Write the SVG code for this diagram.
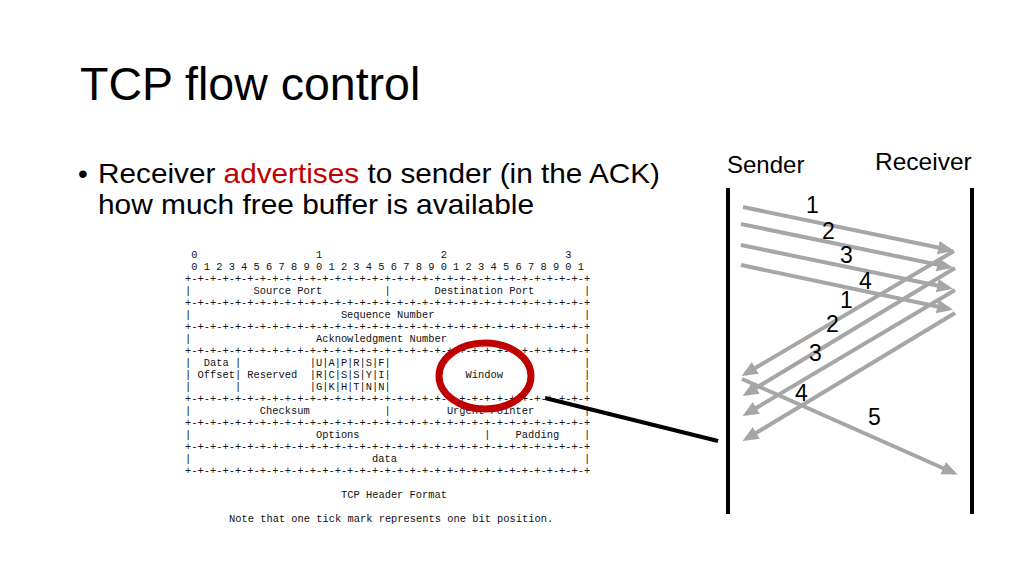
<svg xmlns="http://www.w3.org/2000/svg" width="1024" height="576" viewBox="0 0 1024 576">
<style>
.s{font-family:"Liberation Sans",Arial,sans-serif;fill:#000}
.m{font-family:"Liberation Mono","Courier New",monospace;font-size:10.4px;white-space:pre;fill:#111}
.g{stroke:#a6a6a6;stroke-width:4;fill:none;marker-end:url(#ah)}
.n{font-family:"Liberation Sans",Arial,sans-serif;font-size:23px;fill:#000}
</style>
<defs>
<marker id="ah" markerWidth="5" markerHeight="5" refX="3" refY="2" orient="auto" markerUnits="strokeWidth"><path d="M0,0.3 L4,2 L0,3.7 z" fill="#a6a6a6"/></marker>
</defs>
<rect width="1024" height="576" fill="#fff"/>
<text class="s" x="80" y="100" font-size="46.5">TCP flow control</text>
<g id="bullet">
<text class="s" x="78" y="183" font-size="28">•</text>
<text class="s" x="98" y="183" font-size="28" textLength="562" lengthAdjust="spacingAndGlyphs">Receiver <tspan fill="#c00000">advertises</tspan> to sender (in the ACK)</text>
<text class="s" x="98" y="214" font-size="28" textLength="436" lengthAdjust="spacingAndGlyphs">how much free buffer is available</text>
</g>
<g id="header" xml:space="preserve">
<text class="m" x="185" y="258"> 0                   1                   2                   3</text>
<text class="m" x="185" y="270"> 0 1 2 3 4 5 6 7 8 9 0 1 2 3 4 5 6 7 8 9 0 1 2 3 4 5 6 7 8 9 0 1</text>
<text class="m" x="185" y="282">+-+-+-+-+-+-+-+-+-+-+-+-+-+-+-+-+-+-+-+-+-+-+-+-+-+-+-+-+-+-+-+-+</text>
<text class="m" x="185" y="294">|          Source Port          |       Destination Port        |</text>
<text class="m" x="185" y="306">+-+-+-+-+-+-+-+-+-+-+-+-+-+-+-+-+-+-+-+-+-+-+-+-+-+-+-+-+-+-+-+-+</text>
<text class="m" x="185" y="318">|                        Sequence Number                        |</text>
<text class="m" x="185" y="330">+-+-+-+-+-+-+-+-+-+-+-+-+-+-+-+-+-+-+-+-+-+-+-+-+-+-+-+-+-+-+-+-+</text>
<text class="m" x="185" y="342">|                    Acknowledgment Number                      |</text>
<text class="m" x="185" y="354">+-+-+-+-+-+-+-+-+-+-+-+-+-+-+-+-+-+-+-+-+-+-+-+-+-+-+-+-+-+-+-+-+</text>
<text class="m" x="185" y="366">|  Data |           |U|A|P|R|S|F|                               |</text>
<text class="m" x="185" y="378">| Offset| Reserved  |R|C|S|S|Y|I|            Window             |</text>
<text class="m" x="185" y="390">|       |           |G|K|H|T|N|N|                               |</text>
<text class="m" x="185" y="402">+-+-+-+-+-+-+-+-+-+-+-+-+-+-+-+-+-+-+-+-+-+-+-+-+-+-+-+-+-+-+-+-+</text>
<text class="m" x="185" y="414">|           Checksum            |         Urgent Pointer        |</text>
<text class="m" x="185" y="426">+-+-+-+-+-+-+-+-+-+-+-+-+-+-+-+-+-+-+-+-+-+-+-+-+-+-+-+-+-+-+-+-+</text>
<text class="m" x="185" y="438">|                    Options                    |    Padding    |</text>
<text class="m" x="185" y="450">+-+-+-+-+-+-+-+-+-+-+-+-+-+-+-+-+-+-+-+-+-+-+-+-+-+-+-+-+-+-+-+-+</text>
<text class="m" x="185" y="462">|                             data                              |</text>
<text class="m" x="185" y="474">+-+-+-+-+-+-+-+-+-+-+-+-+-+-+-+-+-+-+-+-+-+-+-+-+-+-+-+-+-+-+-+-+</text>
<text class="m" x="341" y="498">TCP Header Format</text>
<text class="m" x="229" y="522">Note that one tick mark represents one bit position.</text>
</g>
<g id="highlight">
<ellipse cx="485" cy="376" rx="46" ry="33" fill="none" stroke="#c00000" stroke-width="7"/>
<line x1="545" y1="398" x2="718" y2="441" stroke="#000" stroke-width="4"/>
</g>
<g id="sender"><line x1="728" y1="188" x2="728" y2="514" stroke="#000" stroke-width="4"/><text class="s" x="727" y="173" font-size="24">Sender</text></g>
<g id="receiver"><line x1="972" y1="188" x2="972" y2="514" stroke="#000" stroke-width="4"/><text class="s" x="875" y="170" font-size="24.5">Receiver</text></g>
<g id="connectors">
<line class="g" x1="743" y1="207" x2="950" y2="250"/>
<line class="g" x1="741" y1="224" x2="949" y2="267"/>
<line class="g" x1="741" y1="245" x2="949" y2="288"/>
<line class="g" x1="741" y1="265" x2="949" y2="309"/>
<line class="g" x1="954" y1="251" x2="745" y2="374"/>
<line class="g" x1="955" y1="268" x2="746" y2="394"/>
<line class="g" x1="955" y1="290" x2="746" y2="414"/>
<line class="g" x1="955" y1="313" x2="746" y2="439"/>
<line class="g" x1="742" y1="379" x2="954" y2="473"/>
</g>
<g id="labels">
<text class="n" x="806" y="213">1</text>
<text class="n" x="822" y="239">2</text>
<text class="n" x="840" y="263">3</text>
<text class="n" x="859" y="289">4</text>
<text class="n" x="840" y="308">1</text>
<text class="n" x="826" y="332">2</text>
<text class="n" x="809" y="361">3</text>
<text class="n" x="795" y="401">4</text>
<text class="n" x="868" y="425">5</text>
</g>
</svg>
